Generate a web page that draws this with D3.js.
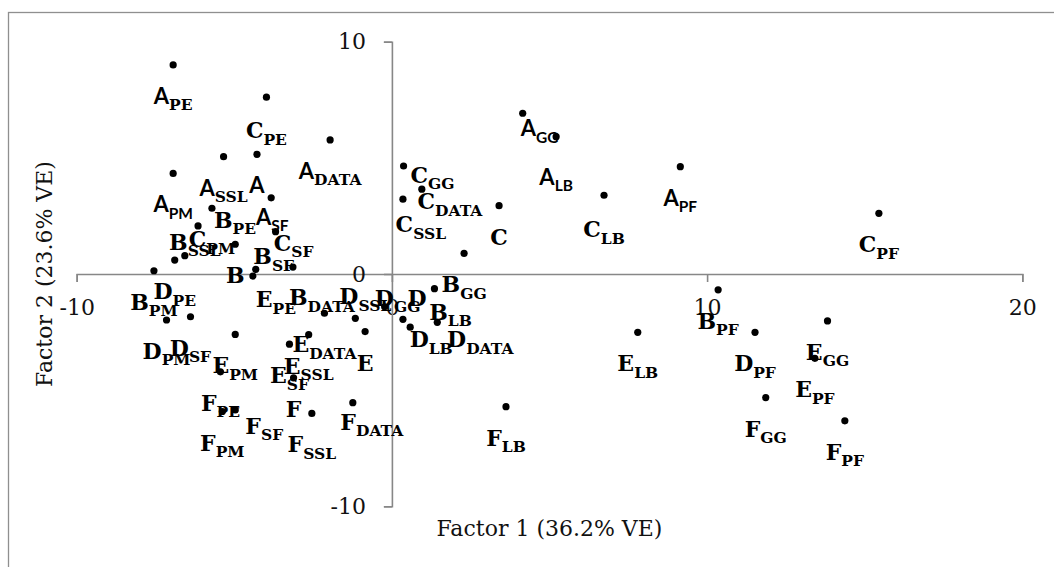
<!DOCTYPE html>
<html>
<head>
<meta charset="utf-8">
<script src="https://cdn.jsdelivr.net/npm/d3@7"></script>
<style>
  html, body { margin: 0; padding: 0; background: #fff; }
  svg { display: block; }
</style>
</head>
<body>
<svg id="chart" width="1054" height="567"></svg>
<script>
// Factor scores for each sample (Factor 1 = x, Factor 2 = y)
const pointIds = [
  "A", "A_PE", "A_PM", "A_SSL", "A_SF", "A_DATA", "A_GG", "A_LB", "A_PF",
  "B", "B_PE", "B_PM", "B_SSL", "B_SF", "B_DATA", "B_GG", "B_LB", "B_PF",
  "C", "C_PE", "C_PM", "C_SSL", "C_SF", "C_DATA", "C_GG", "C_LB", "C_PF",
  "D", "D_PE", "D_PM", "D_SSL", "D_SF", "D_DATA", "D_GG", "D_LB", "D_PF",
  "E", "E_PE", "E_PM", "E_SSL", "E_SF", "E_DATA", "E_GG", "E_LB", "E_PF",
  "F", "F_PE", "F_PM", "F_SSL", "F_SF", "F_DATA", "F_GG", "F_LB", "F_PF"
];
const factor1 = [
  -4.28, -6.94, -6.94, -5.34, -3.83, -1.96, 4.15, 5.21, 9.15,
  -4.97, -6.15, -7.55, -6.57, -4.32, -3.14, 2.29, 1.35, 10.35,
  3.40, -3.98, -5.71, 0.95, -3.69, 0.35, 0.37, 6.73, 15.45,
  0.35, -6.89, -7.15, -1.16, -6.39, 1.44, -0.23, 0.58, 11.52,
  -0.85, -4.41, -4.97, -2.64, -3.25, -2.14, 13.82, 7.80, 13.42,
  -3.12, -5.44, -5.38, -2.54, -4.97, -1.24, 11.86, 3.62, 14.37
];
const factor2 = [
  5.15, 9.00, 4.33, 5.05, 3.28, 5.77, 6.92, 5.91, 4.62,
  1.28, 2.07, 0.14, 0.79, 0.20, 0.30, 0.89, -0.63, -0.68,
  2.94, 7.61, 2.83, 3.65, 1.82, 3.22, 4.65, 3.39, 2.61,
  -1.95, 0.60, -1.98, -1.91, -1.84, -2.08, -1.41, -2.29, -2.51,
  -2.48, -0.09, -2.60, -2.61, -3.02, -1.69, -2.02, -2.51, -3.63,
  -4.47, -4.21, -5.92, -6.00, -5.85, -5.54, -5.32, -5.71, -6.32
];

const xTicks = [-10, 0, 10, 20];
const yTicks = [-10, 0, 10];
const xTitle = "Factor 1 (36.2% VE)";
const yTitle = "Factor 2 (23.6% VE)";

// Hand-placed labels: pixel shift from the default spot under the marker
const labelNudge = {
  "A_SF": [1, -12], "A_GG": [17, -16], "A_LB": [0, 9],
  "B_PE": [37, -37], "B_SSL": [10, -45], "B_SF": [18, -44], "B_DATA": [29, -1], "B_LB": [16, -8],
  "C_SSL": [-1, 4], "C_SF": [18, -20], "C_DATA": [47, -29], "C_GG": [29, -22], "C_LB": [0, 3], "C_PE": [0, 2],
  "D": [14, -52], "D_SSL": [10, -53], "D_GG": [13, -40], "D_LB": [21, -19], "D_DATA": [43, -14],
  "E_PE": [23, -8],
  "F_SF": [29, -15], "F_DATA": [19, -12]
};
// Labels typeset in the sans face (letter + subscript)
const sansSubscripts = new Set(["A_PM", "A_SF", "A_GG", "A_LB", "A_PF"]);

const serif = "'DejaVu Serif', 'Liberation Serif', serif";
const sans = "Lato, 'Open Sans', 'Liberation Sans', sans-serif";
const axisGrey = "#878787";

const svg = d3.select("#chart");

// Outer chart frame
svg.append("rect")
  .attr("x", 8.5).attr("y", 12.5)
  .attr("width", 1080).attr("height", 600)
  .attr("fill", "none").attr("stroke", "#8f8f8f").attr("stroke-width", 1.3);

const x = d3.scaleLinear().domain([-10, 20]).range([76.7, 1022.3]);
const y = d3.scaleLinear().domain([-10, 10]).range([506.3, 41.7]);

const xAxis = d3.axisBottom(x).tickValues(xTicks)
  .tickSize(8).tickSizeOuter(8).tickPadding(17)
  .tickFormat(d => String(d));
const yAxis = d3.axisLeft(y).tickValues(yTicks)
  .tickSize(8).tickSizeOuter(8).tickPadding(18)
  .tickFormat(d => String(d));

const gx = svg.append("g").attr("transform", `translate(0,${y(0)})`).call(xAxis);
const gy = svg.append("g").attr("transform", `translate(${x(0)},0)`).call(yAxis);

[gx, gy].forEach(g => {
  g.select(".domain").attr("stroke", axisGrey).attr("stroke-width", 1.6);
  g.selectAll(".tick line").attr("stroke", axisGrey).attr("stroke-width", 1.6);
  g.selectAll(".tick text")
    .attr("font-family", serif).attr("font-size", 22).attr("fill", "#111");
});

// Axis titles
svg.append("text")
  .attr("x", (x(-10) + x(20)) / 2).attr("y", 536)
  .attr("text-anchor", "middle")
  .attr("font-family", serif).attr("font-size", 22).attr("fill", "#111")
  .text(xTitle);
svg.append("text")
  .attr("transform", `translate(52,${(y(-10) + y(10)) / 2}) rotate(-90)`)
  .attr("text-anchor", "middle")
  .attr("font-family", serif).attr("font-size", 22).attr("fill", "#111")
  .text(yTitle);

const points = pointIds.map((id, i) => {
  const [letter, sub] = id.split("_");
  return { id, letter, sub: sub || "", f1: factor1[i], f2: factor2[i] };
});

// Markers
svg.append("g").selectAll("circle")
  .data(points)
  .join("circle")
  .attr("cx", d => x(d.f1))
  .attr("cy", d => y(d.f2))
  .attr("r", 3.6)
  .attr("fill", "#000");

// Data labels: big letter with a subscript, centred below each marker
const labels = svg.append("g").selectAll("text")
  .data(points)
  .join("text")
  .attr("text-anchor", "middle")
  .attr("font-weight", "bold")
  .attr("fill", "#000")
  .attr("x", d => x(d.f1) + (labelNudge[d.id] ? labelNudge[d.id][0] : 0))
  .attr("y", d => y(d.f2) + 39 + (labelNudge[d.id] ? labelNudge[d.id][1] : 0));

labels.append("tspan")
  .attr("font-family", d => d.letter === "A" ? sans : serif)
  .attr("font-size", 22)
  .text(d => d.letter);

labels.filter(d => d.sub).append("tspan")
  .attr("font-family", d => sansSubscripts.has(d.id) ? sans : serif)
  .attr("font-size", 15.5)
  .attr("dy", 6.5)
  .text(d => d.sub);
</script>
</body>
</html>
